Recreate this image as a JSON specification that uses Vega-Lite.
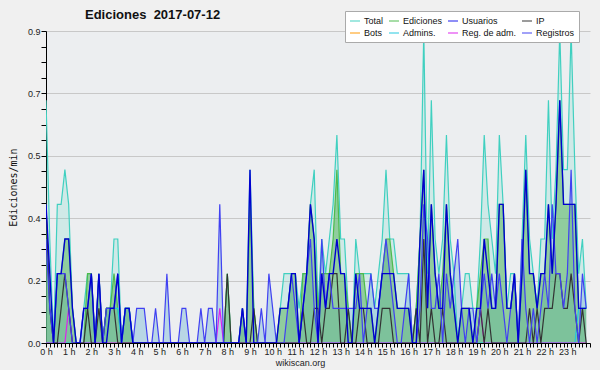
{
"$schema":"https://vega.github.io/schema/vega-lite/v6.json",
"width":544,"height":312,
"autosize":{"type":"none"},
"padding":{"left":46,"top":31,"right":10,"bottom":27},
"background":"#f0f0f0",
"config":{"view":{"fill":"#eceef0","stroke":null},"font":"Liberation Sans"},
"title":{"text":"Ediciones\u00a0\u00a02017-07-12","anchor":"start","frame":"group","dx":39,"dy":20,"offset":9,"fontSize":13,"fontWeight":"bold","font":"Liberation Sans","color":"#111"},
"data":{"values":[
{"m":0,"T":0.7,"E":0.4,"U":0.4,"P":0.4,"R":0.3,"A":0,"M":0},
{"m":10,"T":0.3,"E":0.1,"U":0.2,"P":0.1,"R":0.1,"A":0,"M":0},
{"m":20,"T":0,"E":0,"U":0,"P":0,"R":0,"A":0,"M":0},
{"m":30,"T":0.4,"E":0.2,"U":0.2,"P":0,"R":0.2,"A":0,"M":0},
{"m":40,"T":0.4,"E":0.2,"U":0.2,"P":0.1,"R":0.2,"A":0,"M":0},
{"m":50,"T":0.5,"E":0.3,"U":0.3,"P":0.2,"R":0.2,"A":0,"M":0},
{"m":60,"T":0.4,"E":0.3,"U":0.3,"P":0.1,"R":0.1,"A":0,"M":0.1},
{"m":70,"T":0.1,"E":0.1,"U":0.1,"P":0,"R":0,"A":0,"M":0},
{"m":80,"T":0,"E":0,"U":0,"P":0,"R":0,"A":0,"M":0},
{"m":90,"T":0,"E":0,"U":0,"P":0,"R":0,"A":0,"M":0},
{"m":100,"T":0.1,"E":0,"U":0.1,"P":0,"R":0.1,"A":0,"M":0},
{"m":110,"T":0.2,"E":0.2,"U":0.1,"P":0.1,"R":0.1,"A":0,"M":0},
{"m":120,"T":0.2,"E":0.2,"U":0.2,"P":0,"R":0.2,"A":0,"M":0},
{"m":130,"T":0,"E":0,"U":0,"P":0,"R":0,"A":0,"M":0},
{"m":140,"T":0.2,"E":0.2,"U":0.2,"P":0.1,"R":0.2,"A":0,"M":0},
{"m":150,"T":0,"E":0,"U":0,"P":0,"R":0,"A":0,"M":0},
{"m":160,"T":0.1,"E":0.1,"U":0,"P":0.1,"R":0.1,"A":0.1,"M":0},
{"m":170,"T":0.1,"E":0.1,"U":0.1,"P":0.1,"R":0.1,"A":0.1,"M":0},
{"m":180,"T":0.3,"E":0.2,"U":0.1,"P":0.1,"R":0.1,"A":0.1,"M":0},
{"m":190,"T":0.3,"E":0.1,"U":0.2,"P":0,"R":0.2,"A":0.1,"M":0},
{"m":200,"T":0,"E":0,"U":0,"P":0,"R":0,"A":0,"M":0},
{"m":210,"T":0.1,"E":0.1,"U":0.1,"P":0,"R":0.1,"A":0.1,"M":0},
{"m":220,"T":0.1,"E":0.1,"U":0.1,"P":0,"R":0.1,"A":0.1,"M":0},
{"m":230,"T":0,"E":0,"U":0,"P":0,"R":0,"A":0,"M":0},
{"m":240,"T":0,"E":0,"U":0,"P":0,"R":0.1,"A":0,"M":0},
{"m":250,"T":0,"E":0,"U":0,"P":0,"R":0.1,"A":0,"M":0},
{"m":260,"T":0,"E":0,"U":0,"P":0,"R":0.1,"A":0,"M":0},
{"m":270,"T":0,"E":0,"U":0,"P":0,"R":0,"A":0,"M":0},
{"m":280,"T":0,"E":0,"U":0,"P":0,"R":0,"A":0,"M":0},
{"m":290,"T":0,"E":0,"U":0,"P":0,"R":0.1,"A":0,"M":0},
{"m":300,"T":0,"E":0,"U":0,"P":0,"R":0,"A":0,"M":0},
{"m":310,"T":0,"E":0,"U":0,"P":0,"R":0,"A":0,"M":0},
{"m":320,"T":0,"E":0,"U":0,"P":0,"R":0.2,"A":0,"M":0},
{"m":330,"T":0,"E":0,"U":0,"P":0,"R":0,"A":0,"M":0},
{"m":340,"T":0,"E":0,"U":0,"P":0,"R":0,"A":0,"M":0},
{"m":350,"T":0,"E":0,"U":0,"P":0,"R":0,"A":0,"M":0},
{"m":360,"T":0,"E":0,"U":0,"P":0,"R":0.1,"A":0,"M":0},
{"m":370,"T":0,"E":0,"U":0,"P":0,"R":0.1,"A":0,"M":0},
{"m":380,"T":0,"E":0,"U":0,"P":0,"R":0,"A":0,"M":0},
{"m":390,"T":0,"E":0,"U":0,"P":0,"R":0,"A":0,"M":0},
{"m":400,"T":0,"E":0,"U":0,"P":0,"R":0,"A":0,"M":0},
{"m":410,"T":0,"E":0,"U":0,"P":0,"R":0.1,"A":0,"M":0},
{"m":420,"T":0,"E":0,"U":0,"P":0,"R":0,"A":0,"M":0},
{"m":430,"T":0,"E":0,"U":0,"P":0,"R":0.1,"A":0,"M":0},
{"m":440,"T":0,"E":0,"U":0,"P":0,"R":0.1,"A":0,"M":0},
{"m":450,"T":0,"E":0,"U":0,"P":0,"R":0,"A":0,"M":0},
{"m":460,"T":0,"E":0,"U":0,"P":0,"R":0.4,"A":0,"M":0.1},
{"m":470,"T":0,"E":0,"U":0,"P":0,"R":0,"A":0,"M":0},
{"m":480,"T":0.2,"E":0.2,"U":0,"P":0.2,"R":0,"A":0,"M":0},
{"m":490,"T":0,"E":0,"U":0,"P":0,"R":0,"A":0,"M":0},
{"m":500,"T":0,"E":0,"U":0,"P":0,"R":0,"A":0,"M":0},
{"m":510,"T":0,"E":0,"U":0,"P":0,"R":0,"A":0,"M":0},
{"m":520,"T":0.1,"E":0.1,"U":0.1,"P":0,"R":0.1,"A":0,"M":0},
{"m":530,"T":0,"E":0,"U":0,"P":0,"R":0,"A":0,"M":0},
{"m":540,"T":0.5,"E":0.4,"U":0.5,"P":0,"R":0,"A":0,"M":0},
{"m":550,"T":0.1,"E":0.1,"U":0,"P":0.1,"R":0,"A":0,"M":0},
{"m":560,"T":0,"E":0,"U":0,"P":0,"R":0,"A":0,"M":0},
{"m":570,"T":0,"E":0,"U":0,"P":0,"R":0.1,"A":0,"M":0},
{"m":580,"T":0,"E":0,"U":0,"P":0,"R":0,"A":0,"M":0},
{"m":590,"T":0,"E":0,"U":0,"P":0,"R":0.2,"A":0,"M":0},
{"m":600,"T":0,"E":0,"U":0,"P":0,"R":0.1,"A":0,"M":0},
{"m":610,"T":0,"E":0,"U":0,"P":0,"R":0,"A":0,"M":0},
{"m":620,"T":0.1,"E":0.1,"U":0.1,"P":0,"R":0,"A":0,"M":0},
{"m":630,"T":0.2,"E":0.1,"U":0.1,"P":0,"R":0,"A":0,"M":0},
{"m":640,"T":0.2,"E":0.1,"U":0.1,"P":0,"R":0.1,"A":0,"M":0},
{"m":650,"T":0.2,"E":0.2,"U":0.2,"P":0,"R":0.2,"A":0,"M":0},
{"m":660,"T":0.2,"E":0.2,"U":0.2,"P":0,"R":0.1,"A":0,"M":0},
{"m":670,"T":0.1,"E":0,"U":0,"P":0,"R":0,"A":0,"M":0},
{"m":680,"T":0.2,"E":0.2,"U":0.1,"P":0.1,"R":0.1,"A":0,"M":0},
{"m":690,"T":0.2,"E":0.2,"U":0.2,"P":0,"R":0.2,"A":0,"M":0},
{"m":700,"T":0.4,"E":0.4,"U":0.4,"P":0,"R":0.3,"A":0,"M":0},
{"m":710,"T":0.5,"E":0.3,"U":0.3,"P":0.1,"R":0.1,"A":0,"M":0},
{"m":720,"T":0.1,"E":0.1,"U":0,"P":0.1,"R":0,"A":0,"M":0},
{"m":730,"T":0.3,"E":0.2,"U":0.2,"P":0,"R":0.3,"A":0,"M":0},
{"m":740,"T":0.2,"E":0.2,"U":0.1,"P":0.1,"R":0.1,"A":0,"M":0},
{"m":750,"T":0.3,"E":0.2,"U":0.2,"P":0.1,"R":0.2,"A":0,"M":0},
{"m":760,"T":0.4,"E":0.3,"U":0.2,"P":0.2,"R":0.1,"A":0,"M":0},
{"m":770,"T":0.6,"E":0.5,"U":0.3,"P":0.2,"R":0.1,"A":0,"M":0},
{"m":780,"T":0.3,"E":0.2,"U":0.2,"P":0,"R":0.1,"A":0,"M":0},
{"m":790,"T":0.3,"E":0.2,"U":0.2,"P":0,"R":0.1,"A":0,"M":0},
{"m":800,"T":0.1,"E":0.1,"U":0,"P":0.1,"R":0.1,"A":0,"M":0},
{"m":810,"T":0,"E":0,"U":0,"P":0,"R":0.1,"A":0,"M":0},
{"m":820,"T":0.3,"E":0.2,"U":0.2,"P":0,"R":0.1,"A":0,"M":0},
{"m":830,"T":0.2,"E":0.2,"U":0.1,"P":0.1,"R":0.2,"A":0,"M":0},
{"m":840,"T":0.2,"E":0.2,"U":0.1,"P":0.1,"R":0,"A":0,"M":0},
{"m":850,"T":0.2,"E":0.1,"U":0.1,"P":0,"R":0.1,"A":0,"M":0},
{"m":860,"T":0.2,"E":0.1,"U":0.1,"P":0,"R":0.2,"A":0,"M":0},
{"m":870,"T":0.1,"E":0,"U":0,"P":0,"R":0.1,"A":0,"M":0},
{"m":880,"T":0.2,"E":0.1,"U":0.1,"P":0,"R":0.1,"A":0,"M":0},
{"m":890,"T":0.3,"E":0.2,"U":0.2,"P":0.1,"R":0.2,"A":0,"M":0},
{"m":900,"T":0.5,"E":0.3,"U":0.2,"P":0.1,"R":0.3,"A":0,"M":0},
{"m":910,"T":0.3,"E":0.3,"U":0.2,"P":0.1,"R":0.2,"A":0,"M":0},
{"m":920,"T":0.3,"E":0.2,"U":0.2,"P":0,"R":0.1,"A":0,"M":0},
{"m":930,"T":0.2,"E":0.1,"U":0.1,"P":0,"R":0,"A":0,"M":0},
{"m":940,"T":0.2,"E":0.1,"U":0.1,"P":0,"R":0,"A":0,"M":0},
{"m":950,"T":0.2,"E":0.1,"U":0.1,"P":0,"R":0.1,"A":0,"M":0},
{"m":960,"T":0.2,"E":0.1,"U":0.1,"P":0,"R":0.2,"A":0,"M":0},
{"m":970,"T":0,"E":0,"U":0,"P":0,"R":0,"A":0,"M":0},
{"m":980,"T":0.1,"E":0.1,"U":0,"P":0.1,"R":0,"A":0,"M":0},
{"m":990,"T":0.3,"E":0.3,"U":0.3,"P":0,"R":0.1,"A":0,"M":0},
{"m":1000,"T":0.9,"E":0.5,"U":0.5,"P":0.3,"R":0.4,"A":0,"M":0},
{"m":1010,"T":0.2,"E":0.1,"U":0.1,"P":0,"R":0.3,"A":0,"M":0},
{"m":1020,"T":0.7,"E":0.4,"U":0.4,"P":0.1,"R":0.1,"A":0,"M":0},
{"m":1030,"T":0.3,"E":0.2,"U":0.2,"P":0,"R":0.1,"A":0,"M":0},
{"m":1040,"T":0.2,"E":0.1,"U":0.1,"P":0,"R":0.2,"A":0,"M":0},
{"m":1050,"T":0.3,"E":0.2,"U":0.1,"P":0.1,"R":0,"A":0,"M":0},
{"m":1060,"T":0.6,"E":0.4,"U":0.4,"P":0,"R":0.2,"A":0,"M":0},
{"m":1070,"T":0.3,"E":0.2,"U":0.2,"P":0,"R":0.1,"A":0,"M":0},
{"m":1080,"T":0.2,"E":0.1,"U":0.1,"P":0,"R":0.2,"A":0,"M":0},
{"m":1090,"T":0,"E":0,"U":0,"P":0,"R":0.3,"A":0,"M":0},
{"m":1100,"T":0.1,"E":0.1,"U":0.1,"P":0,"R":0.1,"A":0,"M":0},
{"m":1110,"T":0.2,"E":0.1,"U":0.1,"P":0,"R":0,"A":0,"M":0},
{"m":1120,"T":0.2,"E":0.1,"U":0.1,"P":0,"R":0.1,"A":0,"M":0},
{"m":1130,"T":0.1,"E":0,"U":0,"P":0,"R":0.1,"A":0,"M":0},
{"m":1140,"T":0.1,"E":0.1,"U":0.1,"P":0,"R":0,"A":0,"M":0},
{"m":1150,"T":0.3,"E":0.2,"U":0.1,"P":0.1,"R":0.1,"A":0,"M":0.1},
{"m":1160,"T":0.6,"E":0.3,"U":0.3,"P":0,"R":0.2,"A":0,"M":0},
{"m":1170,"T":0.4,"E":0.3,"U":0.2,"P":0.1,"R":0.1,"A":0,"M":0},
{"m":1180,"T":0.3,"E":0.1,"U":0.1,"P":0,"R":0.2,"A":0,"M":0},
{"m":1190,"T":0.2,"E":0.1,"U":0.1,"P":0,"R":0.1,"A":0,"M":0},
{"m":1200,"T":0.6,"E":0.4,"U":0.4,"P":0,"R":0.2,"A":0,"M":0},
{"m":1210,"T":0.4,"E":0.4,"U":0.4,"P":0,"R":0.1,"A":0,"M":0},
{"m":1220,"T":0.1,"E":0.1,"U":0.1,"P":0,"R":0,"A":0,"M":0},
{"m":1230,"T":0.2,"E":0.1,"U":0.1,"P":0,"R":0.1,"A":0,"M":0},
{"m":1240,"T":0.2,"E":0.2,"U":0.2,"P":0,"R":0.2,"A":0,"M":0},
{"m":1250,"T":0,"E":0,"U":0,"P":0,"R":0,"A":0,"M":0},
{"m":1260,"T":0.3,"E":0.2,"U":0.2,"P":0,"R":0.3,"A":0,"M":0},
{"m":1270,"T":0.6,"E":0.5,"U":0.5,"P":0,"R":0.1,"A":0,"M":0},
{"m":1280,"T":0.3,"E":0.2,"U":0.2,"P":0.1,"R":0,"A":0,"M":0},
{"m":1290,"T":0.2,"E":0.2,"U":0.2,"P":0,"R":0.1,"A":0,"M":0},
{"m":1300,"T":0.1,"E":0.1,"U":0.1,"P":0.1,"R":0,"A":0,"M":0},
{"m":1310,"T":0.3,"E":0.2,"U":0.2,"P":0,"R":0.1,"A":0,"M":0},
{"m":1320,"T":0.3,"E":0.2,"U":0.2,"P":0.1,"R":0.2,"A":0,"M":0},
{"m":1330,"T":0.7,"E":0.4,"U":0.4,"P":0.1,"R":0.1,"A":0,"M":0},
{"m":1340,"T":0.3,"E":0.2,"U":0.2,"P":0.1,"R":0.4,"A":0,"M":0},
{"m":1350,"T":0.5,"E":0.4,"U":0.4,"P":0.2,"R":0.2,"A":0,"M":0},
{"m":1360,"T":0.9,"E":0.7,"U":0.7,"P":0.2,"R":0.2,"A":0,"M":0},
{"m":1370,"T":0.5,"E":0.4,"U":0.4,"P":0.1,"R":0.1,"A":0,"M":0},
{"m":1380,"T":0.5,"E":0.4,"U":0.4,"P":0.1,"R":0.2,"A":0,"M":0},
{"m":1390,"T":0.9,"E":0.4,"U":0.4,"P":0.2,"R":0.5,"A":0,"M":0},
{"m":1400,"T":0.5,"E":0.4,"U":0.4,"P":0.1,"R":0.1,"A":0,"M":0},
{"m":1410,"T":0.2,"E":0.1,"U":0.1,"P":0,"R":0,"A":0.1,"M":0},
{"m":1420,"T":0.3,"E":0.1,"U":0.1,"P":0.1,"R":0.2,"A":0.1,"M":0},
{"m":1430,"T":0.1,"E":0.1,"U":0.1,"P":0,"R":0.1,"A":0.1,"M":0}
]},
"encoding":{
 "x":{"field":"m","type":"quantitative","scale":{"domain":[0,1440],"nice":false,"zero":false},
  "axis":{"title":"wikiscan.org","titleFontSize":9,"titleFontWeight":"normal","titleColor":"#222","titlePadding":2,"titleX":254,
   "tickCount":144,"labelExpr":"datum.value % 60 == 0 && datum.value < 1440 ? (datum.value/60) + ' h' : ''",
   "labelOverlap":false,"labelFlush":false,"labelFontSize":9,"labelColor":"#222","labelPadding":0,
   "tickSize":4,"tickColor":"#000","domainColor":"#000","grid":false}},
 "y":{"field":"v","type":"quantitative","scale":{"domain":[0,0.9],"nice":false},
  "axis":{"title":"Ediciones/min","titleFont":"DejaVu Sans Mono","titleFontSize":10,"titleFontWeight":"normal","titleColor":"#111","titlePadding":9,
   "values":[0,0.045,0.09,0.135,0.18,0.225,0.27,0.315,0.36,0.405,0.45,0.495,0.54,0.585,0.63,0.675,0.72,0.765,0.81,0.855,0.9],
   "labelExpr":"round(datum.value/0.045) % 4 == 0 ? format(datum.value, '.1f') : ''",
   "gridOpacity":{"condition":{"test":"round(datum.value/0.045) % 4 == 0","value":1},"value":0},
   "gridColor":"#c8c8c8","tickSize":5,"tickColor":"#000","domainColor":"#000","labelFontSize":9,"labelColor":"#222","labelPadding":1}}
},
"layer":[
 {"transform":[{"fold":["T"],"as":["s","v"]}],
  "mark":{"type":"area","color":"#40d0c0","opacity":0.17,"clip":true}},
 {"transform":[{"fold":["R"],"as":["s","v"]}],
  "mark":{"type":"area","color":"#8ec3dc","opacity":0.55,"clip":true}},
 {"transform":[{"fold":["E"],"as":["s","v"]}],
  "mark":{"type":"area","color":"#4caf50","opacity":0.48,"clip":true}},
 {"transform":[{"fold":["T","E","A","M","P","R"],"as":["s","v"]}],
  "mark":{"type":"line","strokeWidth":1.2,"clip":true},
  "encoding":{"color":{"field":"s","type":"nominal",
    "scale":{"domain":["T","E","U","P","B","A","M","R"],"range":["#40d0c0","#4cbb4c","#1a1aee","#333333","#ff9900","#20c8e0","#dd22ee","#4040f2"]},
    "legend":{"orient":"none","legendX":299,"legendY":-20,"direction":"horizontal","columns":4,"title":null,
     "symbolType":"stroke","symbolSize":100,"symbolStrokeWidth":1.5,"symbolOpacity":0.65,
     "labelFontSize":9,"labelFont":"Liberation Sans","labelColor":"#111","labelOffset":3,
     "columnPadding":2,"rowPadding":1,"padding":4,"fillColor":"#ffffff","strokeColor":"#aaaaaa",
     "labelExpr":"datum.label == 'T' ? 'Total' : datum.label == 'E' ? 'Ediciones' : datum.label == 'U' ? 'Usuarios' : datum.label == 'P' ? 'IP' : datum.label == 'B' ? 'Bots' : datum.label == 'A' ? 'Admins.' : datum.label == 'M' ? 'Reg. de adm.' : 'Registros'"}}}},
 {"transform":[{"fold":["U"],"as":["s","v"]}],
  "mark":{"type":"line","strokeWidth":1.4,"color":"#0000d0","clip":true},"encoding":{}},
 {"data":{"values":[{"label":"CC BY-SA 3.0"}]},
  "mark":{"type":"text","align":"right","baseline":"top","dy":15,"fontSize":7,"color":"#444"},
  "encoding":{"x":{"datum":1440},"y":{"datum":0},"text":{"field":"label","type":"nominal"}}}
]
}
